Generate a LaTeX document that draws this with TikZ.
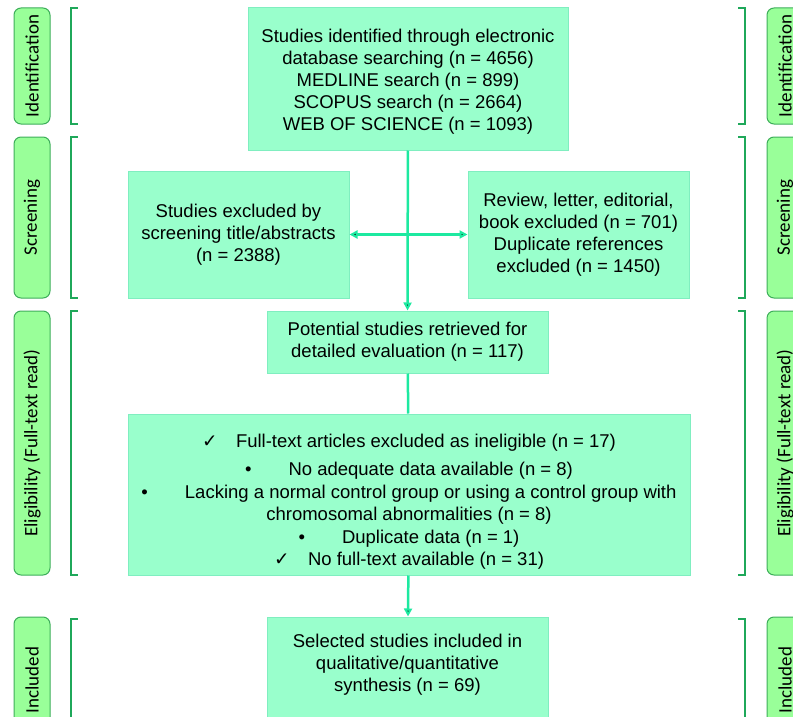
\documentclass[tikz,border=0pt]{standalone}
\usepackage{fontspec}
\setmainfont{Liberation Sans}
\newfontfamily\lblfont{Carlito}
\newfontfamily\symfont{DejaVu Sans}
\usetikzlibrary{arrows.meta}
\definecolor{boxfill}{HTML}{99FFCC}
\definecolor{boxline}{HTML}{80EEC0}
\definecolor{flow}{HTML}{1DE9A0}
\definecolor{tagfill}{HTML}{99FF99}
\definecolor{tagline}{HTML}{3DAE5A}
\definecolor{brack}{HTML}{1FA85A}
\begin{document}
\begin{tikzpicture}[x=1pt,y=-1pt,>={Triangle[length=8pt,width=8pt]},
    box/.style={draw=boxline,fill=boxfill,line width=1pt,align=center,inner sep=0pt,
                font=\fontsize{18.5}{22}\selectfont},
    tag/.style={draw=tagline,fill=tagfill,rounded corners=7pt,line width=1pt,rotate=90,
                inner sep=0pt,minimum height=36pt,font=\lblfont\fontsize{19}{22}\selectfont},
    flowline/.style={draw=flow,line width=2.5pt}]
    \clip (0,0) rectangle (793,717);
    \useasboundingbox (0,0) rectangle (793,717);

    \node[box,minimum width=320pt,minimum height=142pt] (found) at (408,79)
        {\rule{0pt}{19pt}Studies identified through electronic\\ database searching (n = 4656)\\
         MEDLINE search (n = 899)\\ SCOPUS search (n = 2664)\\ WEB OF SCIENCE (n = 1093)};

    \node[box,minimum width=221pt,minimum height=127pt] (screenout) at (238.5,234.5)
        {Studies excluded by\\ screening title/abstracts\\ (n = 2388)};
    \node[box,minimum width=221pt,minimum height=127pt] (dupout) at (578.5,234.5)
        {Review, letter, editorial,\\ book excluded (n = 701)\\ Duplicate references\\ excluded (n = 1450)};

    \node[box,minimum width=281pt,minimum height=62pt] (retrieved) at (407.5,342)
        {Potential studies retrieved for\\ detailed evaluation (n = 117)};

    \node[box,minimum width=562pt,minimum height=161pt,font=\fontsize{18.5}{22.5}\selectfont] (fulltext) at (409,494.5)
        {\rule{0pt}{28pt}{\symfont ✓}\quad Full-text articles excluded as ineligible (n = 17)\\[6pt]
         •\qquad No adequate data available (n = 8)\\
         •\qquad Lacking a normal control group or using a control group with\\
         chromosomal abnormalities (n = 8)\\
         •\qquad Duplicate data (n = 1)\\
         {\symfont ✓}\quad No full-text available (n = 31)};

    \node[box,minimum width=281pt,minimum height=126pt,text depth=34pt] (included) at (407.5,680)
        {Selected studies included in\\ qualitative/quantitative\\ synthesis (n = 69)};

    \path[flowline,->] (found) edge (retrieved)
                       (fulltext) edge (included);
    \path[flowline] (retrieved) edge (fulltext);
    \path[flowline,<->] (screenout) edge (dupout);

    % stage tags, both sides
    \node[tag,minimum width=116pt] (idL) at (32,66) {Identification};
    \node[tag,minimum width=161pt] (scrL) at (32,217.5) {Screening};
    \node[tag,minimum width=264pt] (eliL) at (32,443) {Eligibility (Full-text read)};
    \node[tag,minimum width=126pt] (incL) at (32,680) {Included};
    \node[tag,minimum width=116pt] (idR) at (785,66) {Identification};
    \node[tag,minimum width=161pt] (scrR) at (785,217.5) {Screening};
    \node[tag,minimum width=264pt] (eliR) at (785,443) {Eligibility (Full-text read)};
    \node[tag,minimum width=126pt] (incR) at (785,680) {Included};

    % brackets
    \foreach \ya/\yb in {8/124,137/298,311/575,619/760}{
        \draw[brack,line width=2pt] (78,\ya) -- (71,\ya) -- (71,\yb) -- (78,\yb);
        \draw[brack,line width=2pt] (738,\ya) -- (745,\ya) -- (745,\yb) -- (738,\yb);
    }
\end{tikzpicture}
\end{document}
